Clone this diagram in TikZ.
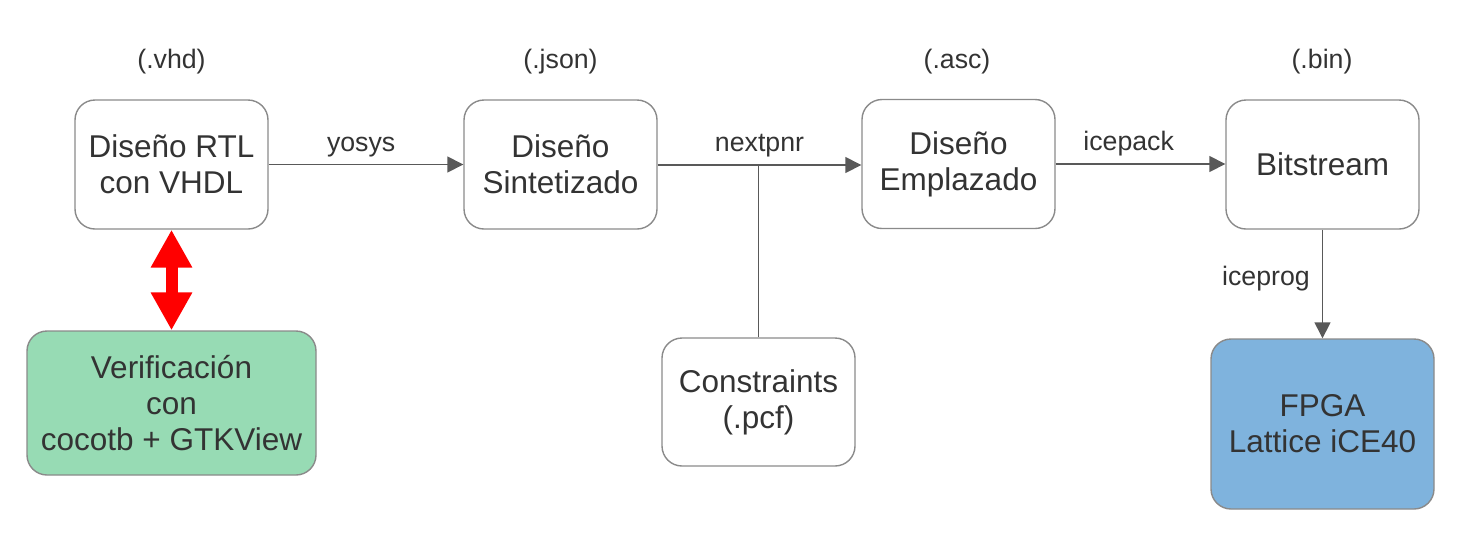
\documentclass[tikz,border=0pt]{standalone}
\usepackage{fontspec}
\setmainfont{Liberation Sans}
\usetikzlibrary{arrows.meta}
\definecolor{txt}{HTML}{333333}
\definecolor{bord}{HTML}{8A8A8A}
\definecolor{arr}{HTML}{595959}
\definecolor{vgreen}{HTML}{97DBB4}
\definecolor{fblue}{HTML}{7FB3DD}
\tikzset{
  box/.style={draw=bord, line width=1.4pt, rounded corners=20pt, align=center,
    text=txt, font=\fontsize{31.5}{36}\selectfont, inner sep=0pt},
  lbl/.style={text=txt, font=\fontsize{26.7}{30}\selectfont, inner sep=0pt},
  conn/.style={draw=arr, line width=1.5pt},
  tip/.style={-{Triangle[width=16pt,length=16pt]}},
}
\begin{document}
\begin{tikzpicture}[x=1pt,y=-1pt]
\useasboundingbox (0,0) rectangle (1474,542);
\node[box, minimum width=193pt, minimum height=129pt] (rtl) at (171.5,164.5) {Diseño RTL\\con VHDL};
\node[box, minimum width=193pt, minimum height=129pt] (syn) at (560.5,164.5) {Diseño\\Sintetizado};
\node[box, minimum width=193pt, minimum height=129pt] (pla) at (958.5,164) {Diseño\\Emplazado};
\node[box, minimum width=193pt, minimum height=129pt] (bit) at (1322.5,164.5) {Bitstream};
\node[box, fill=vgreen, minimum width=289pt, minimum height=144pt] (ver) at (171.5,403) {Verificación\\con\\cocotb + GTKView};
\node[box, minimum width=193pt, minimum height=128pt] (con) at (758.5,402) {Constraints\\(.pcf)};
\node[box, fill=fblue, minimum width=223pt, minimum height=170pt] (fpga) at (1322.5,424) {FPGA\\Lattice iCE40};

\node[lbl] (e1) at (171.5,61.5) {(.vhd)};
\node[lbl] (e2) at (560.5,61.5) {(.json)};
\node[lbl] (e3) at (957,61.5) {(.asc)};
\node[lbl] (e4) at (1322,61.5) {(.bin)};

\draw[conn, tip] (rtl.east) -- node[lbl, above=7pt, pos=0.475] (l1) {yosys} (syn.west);
\draw[conn, tip] (syn.east |- 0,165) -- node[lbl, above=7pt] (l2) {nextpnr} (pla.west |- 0,165);
\coordinate (j) at (con.north |- 0,165);
\draw[conn] (con.north) -- (j);
\draw[conn, tip] (pla.east |- 0,164) -- node[lbl, above=7pt, pos=0.43] (l3) {icepack} (bit.west |- 0,164);
\draw[conn, tip] (bit.south) -- node[lbl, left=12pt, pos=0.45] (l4) {iceprog} (fpga.north);

\draw[red, line width=12pt, {Triangle[width=39pt,length=38pt]}-{Triangle[width=39pt,length=38pt]}] (rtl.south) -- (ver.north);
\end{tikzpicture}
\end{document}
